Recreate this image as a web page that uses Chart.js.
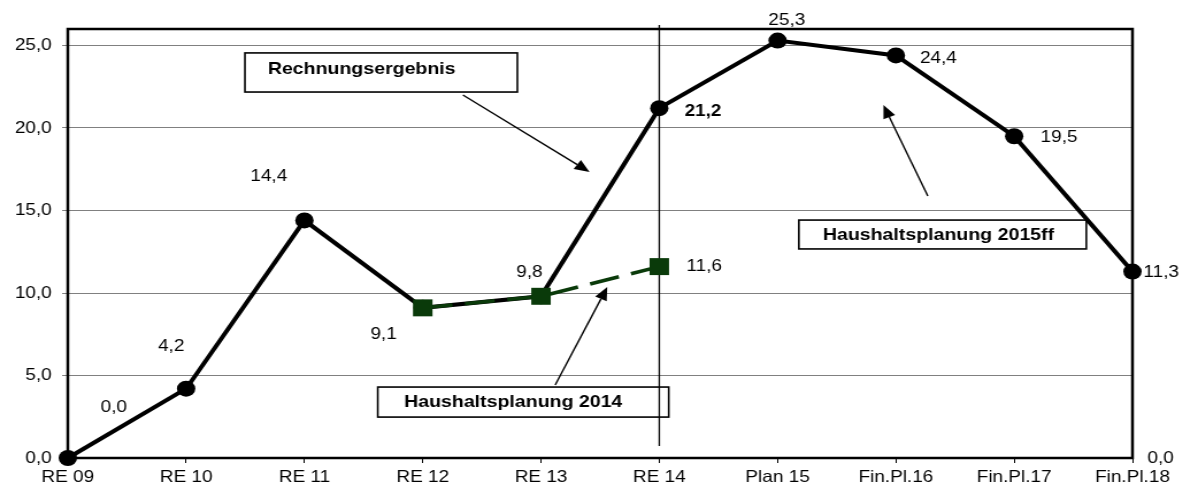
<!DOCTYPE html>
<html>
<head>
<meta charset="utf-8">
<script src="https://cdn.jsdelivr.net/npm/chart.js@4.4.0/dist/chart.umd.min.js"></script>
<style>
html, body { margin: 0; padding: 0; background: #fff; }
#wrap { width: 1183px; height: 488px; overflow: hidden; }
#inner { width: 1029px; height: 488px; transform: scaleX(1.1497); transform-origin: 0 0; }
</style>
</head>
<body>
<div id="wrap"><div id="inner"><canvas id="chart" width="1029" height="488"></canvas></div></div>
<script>
// Daten
const categories = ['RE 09', 'RE 10', 'RE 11', 'RE 12', 'RE 13', 'RE 14', 'Plan 15', 'Fin.Pl.16', 'Fin.Pl.17', 'Fin.Pl.18']
const rechnungsergebnis = [0.0, 4.2, 14.4, 9.1, 9.8, 21.2, 25.3, 24.4, 19.5, 11.3]
const haushaltsplanung2014 = [null, null, null, 9.1, 9.8, 11.6, null, null, null, null]

// Position der Werte-Labels relativ zum Punkt (px), null = kein Label
const reLabelOffsets = [[40, -51], [-13, -42], [-31, -44], null, null, [38, 3], [8, -20], [37, 3], [39, 1], [25, 1]]
const reLabelBold = [false, false, false, false, false, true, false, false, false, false]
const hpLabelOffsets = [null, null, null, [-34, 27], [-10, -24], [39, 0], null, null, null, null]

const GREEN = '#0a3a0a'
const FONT = "'Liberation Sans', Arial, sans-serif"
const fmt = v => v.toFixed(1).replace('.', ',')

// Textkästen mit Pfeilen, in Achseneinheiten (x = Kategorie-Index, y = Wert)
const callouts = [
    { text: 'Rechnungsergebnis', box: [1.497, 24.55, 3.80, 22.18], textAt: [1.69, 23.58], align: 'left', arrow: [3.34, 22.0, 4.41, 17.33] },
    { text: 'Haushaltsplanung 2014', box: [2.62, 4.30, 5.08, 2.48], textAt: [3.765, 3.36], align: 'center', arrow: [4.12, 4.42, 4.56, 10.36] },
    { text: 'Haushaltsplanung 2015ff', box: [6.18, 14.42, 8.61, 12.67], textAt: [7.36, 13.5], align: 'center', arrow: [7.27, 15.88, 6.895, 21.39] }
]
const markerLine = { index: 5, from: 26.24, to: 0.73 }

function drawArrow(ctx, x1, y1, x2, y2) {
    const a = Math.atan2(y2 - y1, x2 - x1)
    const len = 13, hw = 5.5
    const bx = x2 - Math.cos(a) * len, by = y2 - Math.sin(a) * len
    ctx.beginPath()
    ctx.moveTo(x1, y1)
    ctx.lineTo(bx, by)
    ctx.stroke()
    ctx.beginPath()
    ctx.moveTo(x2, y2)
    ctx.lineTo(bx + Math.sin(a) * hw, by - Math.cos(a) * hw)
    ctx.lineTo(bx - Math.sin(a) * hw, by + Math.cos(a) * hw)
    ctx.closePath()
    ctx.fill()
}

const framePlugin = {
    id: 'frame',
    beforeDatasetsDraw(chart) {
        const { ctx, chartArea, scales: { x, y } } = chart
        ctx.save()
        // senkrechte Linie bei RE 14
        ctx.strokeStyle = '#000'
        ctx.lineWidth = 1.3
        const lx = x.getPixelForValue(markerLine.index)
        ctx.beginPath()
        ctx.moveTo(lx, y.getPixelForValue(markerLine.from))
        ctx.lineTo(lx, y.getPixelForValue(markerLine.to))
        ctx.stroke()

        // Kästen + Pfeile
        callouts.forEach(c => {
            const x1 = x.getPixelForValue(c.box[0]), y1 = y.getPixelForValue(c.box[1])
            const x2 = x.getPixelForValue(c.box[2]), y2 = y.getPixelForValue(c.box[3])
            ctx.lineWidth = 1.6
            ctx.strokeStyle = '#000'
            ctx.strokeRect(x1, y1, x2 - x1, y2 - y1)
            ctx.font = `bold 17px ${FONT}`
            ctx.fillStyle = '#000'
            ctx.textAlign = c.align
            ctx.textBaseline = 'middle'
            ctx.fillText(c.text, x.getPixelForValue(c.textAt[0]), y.getPixelForValue(c.textAt[1]))
            ctx.lineWidth = 1.4
            drawArrow(ctx,
                x.getPixelForValue(c.arrow[0]), y.getPixelForValue(c.arrow[1]),
                x.getPixelForValue(c.arrow[2]), y.getPixelForValue(c.arrow[3]))
        })

        // Rahmen
        ctx.lineWidth = 2.5
        ctx.strokeStyle = '#000'
        ctx.strokeRect(chartArea.left, chartArea.top, chartArea.right - chartArea.left, chartArea.bottom - chartArea.top)
        ctx.restore()
    }
}

const valueLabelPlugin = {
    id: 'valueLabels',
    afterDatasetsDraw(chart) {
        const { ctx } = chart
        ctx.save()
        ctx.fillStyle = '#000'
        ctx.textAlign = 'center'
        ctx.textBaseline = 'middle'
        chart.data.datasets.forEach((ds, di) => {
            const meta = chart.getDatasetMeta(di)
            meta.data.forEach((pt, i) => {
                const off = ds.labelOffsets[i]
                if (!off || ds.data[i] === null) return
                ctx.font = `${ds.labelBold && ds.labelBold[i] ? 'bold ' : ''}16.5px ${FONT}`
                ctx.fillText(fmt(ds.data[i]), pt.x + off[0], pt.y + off[1])
            })
        })
        ctx.restore()
    }
}

Chart.defaults.font.family = FONT
Chart.defaults.font.size = 16.5
Chart.defaults.color = '#000'

new Chart(document.getElementById('chart').getContext('2d'), {
    type: 'line',
    data: {
        labels: categories,
        datasets: [
            {
                label: 'Haushaltsplanung 2014',
                data: haushaltsplanung2014,
                labelOffsets: hpLabelOffsets,
                borderColor: GREEN,
                backgroundColor: GREEN,
                borderWidth: 3.5,
                borderDash: [26, 11],
                pointStyle: 'rect',
                pointRadius: 12,
                pointBorderWidth: 0,
                order: 0,
                clip: false
            },
            {
                label: 'Rechnungsergebnis',
                data: rechnungsergebnis,
                labelOffsets: reLabelOffsets,
                labelBold: reLabelBold,
                borderColor: '#000',
                backgroundColor: '#000',
                borderWidth: 4,
                pointStyle: 'circle',
                pointRadius: 8,
                pointBorderWidth: 0,
                order: 1,
                clip: false
            }
        ]
    },
    options: {
        responsive: false,
        animation: false,
        devicePixelRatio: 1,
        layout: { padding: { top: 29, left: 0, right: 0, bottom: 0 } },
        plugins: { legend: { display: false }, tooltip: { enabled: false } },
        scales: {
            x: {
                offset: false,
                grid: { drawOnChartArea: false, tickLength: 5, color: '#000' },
                border: { display: false },
                ticks: { padding: 5, maxRotation: 0, autoSkip: false },
                afterFit: s => { s.height = 30 }
            },
            y: {
                min: 0,
                max: 26,
                ticks: { stepSize: 5, includeBounds: false, padding: 9, callback: v => fmt(v) },
                grid: { color: '#808080', tickLength: 5 },
                border: { display: false },
                afterFit: s => { s.width = 59 }
            },
            y2: {
                position: 'right',
                min: 0,
                max: 26,
                ticks: { stepSize: 5, includeBounds: false, padding: 13, callback: v => v === 0 ? fmt(v) : '' },
                grid: { display: false, drawTicks: false },
                border: { display: false },
                afterFit: s => { s.width = 44 }
            }
        }
    },
    plugins: [framePlugin, valueLabelPlugin]
})
</script>
</body>
</html>
